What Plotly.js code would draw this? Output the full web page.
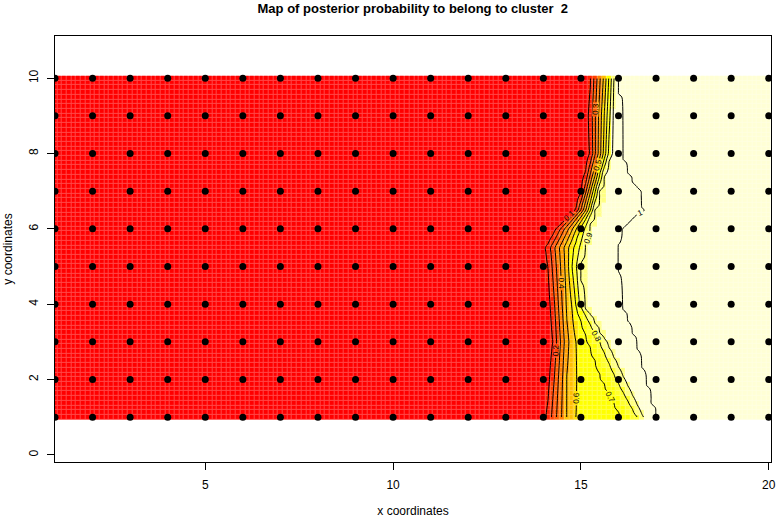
<!DOCTYPE html>
<html>
<head>
<meta charset="utf-8">
<script src="https://cdn.plot.ly/plotly-3.0.1.min.js"></script>
<style>html,body{margin:0;padding:0;background:#fff}#chart{width:776px;height:518px}</style>
</head>
<body>
<div id="chart"></div>
<script>
// Observation grid (points drawn on the map)
const gridX = [1,2,3,4,5,6,7,8,9,10,11,12,13,14,15,16,17,18,19,20];
const gridY = [1,2,3,4,5,6,7,8,9,10];

const rowY  = [1,     2,     3,     4,     5,     5.5,   6,     6.5,   7,     7.5,   8,     9,     10];
const p10   = [14.08, 14.18, 14.25, 14.20, 14.12, 14.07, 14.35, 14.86, 15.02, 15.12, 15.24, 15.22, 15.26];
const p50   = [14.62, 14.62, 14.66, 14.60, 14.57, 14.55, 14.78, 15.13, 15.26, 15.40, 15.53, 15.55, 15.60];
const p60   = [14.87, 14.90, 14.87, 14.75, 14.68, 14.68, 14.88, 15.20, 15.32, 15.46, 15.60, 15.62, 15.67];
const p68   = [14.97, 14.98, 14.97, 14.82, 14.74, 14.77, 14.95, 15.24, 15.37, 15.50, 15.64, 15.68, 15.72];
const p70   = [16.11, 15.58, 15.20, 14.86, 14.77, 14.82, 14.99, 15.26, 15.39, 15.52, 15.66, 15.70, 15.74];
const p80   = [16.50, 15.95, 15.50, 14.97, 14.88, 14.96, 15.10, 15.31, 15.45, 15.58, 15.73, 15.77, 15.81];
const p90   = [16.65, 16.15, 15.65, 15.05, 14.97, 15.10, 15.20, 15.37, 15.50, 15.64, 15.80, 15.84, 15.88];
const p100  = [16.97, 16.70, 16.45, 16.08, 16.00, 16.00, 16.05, 16.65, 16.55, 16.20, 16.08, 16.03, 15.98];
const levelVals = [0.1, 0.5, 0.6, 0.68, 0.7, 0.8, 0.9, 1.0];
const levelPos  = [p10, p50, p60, p68, p70, p80, p90, p100];

// heat.colors(12) as used by R image()
const heatCols = ['#FF0000','#FF2000','#FF4000','#FF6000','#FF8000','#FF9F00','#FFBF00','#FFDF00','#FFFF00','#FFFF2A','#FFFF80','#FFFFD5'];

const title = 'Map of posterior probability to belong to cluster \u00a02';
const xTitle = 'x coordinates';
const yTitle = 'y coordinates';
const xTicks = [5,10,15,20];
const yTicks = [0,2,4,6,8,10];

// ---- build the probability table on the image grid ----
function rowInterp(arr, y){
  if (y <= rowY[0]) return arr[0];
  for (let i=0;i<rowY.length-1;i++){
    if (y <= rowY[i+1]){
      const t=(y-rowY[i])/(rowY[i+1]-rowY[i]);
      return arr[i]+t*(arr[i+1]-arr[i]);
    }
  }
  return arr[arr.length-1];
}
const step = 0.125;
const hx=[], hy=[];
for (let i=0;i<=Math.round((20-1)/step);i++) hx.push(1+i*step);
for (let j=0;j<=Math.round((10-1)/step);j++) hy.push(1+j*step);
const Z = hy.map(y=>{
  const P = levelPos.map(a=>rowInterp(a,y));
  const V = levelVals.slice();
  P.unshift(P[0]-0.2); V.unshift(0);
  return hx.map(x=>{
    if (x<=P[0]) return 0;
    if (x>=P[P.length-1]) return 1;
    for (let k=0;k<P.length-1;k++){
      if (x<=P[k+1]){
        const d=P[k+1]-P[k];
        const t=d>0?(x-P[k])/d:1;
        return V[k]+t*(V[k+1]-V[k]);
      }
    }
    return 1;
  });
});

const cs=[];
heatCols.forEach((c,i)=>{cs.push([i/12,c]);cs.push([(i+1)/12,c]);});

const ptX=[], ptY=[];
gridY.forEach(y=>gridX.forEach(x=>{ptX.push(x);ptY.push(y);}));

const font='"Liberation Sans", Arial, Helvetica, sans-serif';

const traces=[
  {type:'heatmap',x:hx,y:hy,z:Z,zmin:0,zmax:1,colorscale:cs,showscale:false,opacity:0.72,hoverinfo:'skip'},
  {type:'heatmap',x:hx,y:hy,z:Z,zmin:0,zmax:1,colorscale:cs,showscale:false,xgap:1,ygap:1,hoverinfo:'skip'},
  {type:'contour',x:hx,y:hy,z:Z,autocontour:false,contours:{start:0.1,end:0.9,size:0.1,coloring:'none',showlabels:true,labelformat:'.1~f',labelfont:{size:8,color:'#000',family:font}},line:{color:'#000',width:1},showscale:false,hoverinfo:'skip'},
  {type:'contour',x:hx,y:hy,z:Z,autocontour:false,contours:{start:0.999,end:0.999,size:0.1,coloring:'none',showlabels:true,labelformat:'.1~f',labelfont:{size:8,color:'#000',family:font}},line:{color:'#000',width:1},showscale:false,hoverinfo:'skip'},
  {type:'scatter',mode:'markers',x:ptX,y:ptY,marker:{color:'#000',size:7},hoverinfo:'skip'}
];

const layout={
  width:776,height:518,
  margin:{l:55,r:5,t:36,b:56},
  paper_bgcolor:'#fff',plot_bgcolor:'#fff',
  showlegend:false,
  font:{family:font,size:12,color:'#000'},
  title:{text:title,font:{family:font,size:13,weight:'bold',color:'#000'},x:0.532,xanchor:'center',y:0.984,yanchor:'middle',xref:'container',yref:'container'},
  xaxis:{range:[1,20.06],showgrid:false,zeroline:false,showline:true,mirror:true,linecolor:'#000',linewidth:1,
    ticks:'outside',ticklen:7,tickcolor:'#000',tickvals:xTicks,ticktext:xTicks.map(String),tickfont:{size:12},ticklabelstandoff:5,
    title:{text:xTitle,font:{size:12},standoff:16}},
  yaxis:{range:[-0.19,11.12],showgrid:false,zeroline:false,showline:true,mirror:true,linecolor:'#000',linewidth:1,
    ticks:'outside',ticklen:7,tickcolor:'#000',tickvals:yTicks,ticktext:yTicks.map(String),tickangle:-90,tickfont:{size:12},ticklabelstandoff:4,
    title:{text:yTitle,font:{size:12},standoff:12}}
};

Plotly.newPlot('chart',traces,layout,{staticPlot:true,displayModeBar:false});
</script>
</body>
</html>
